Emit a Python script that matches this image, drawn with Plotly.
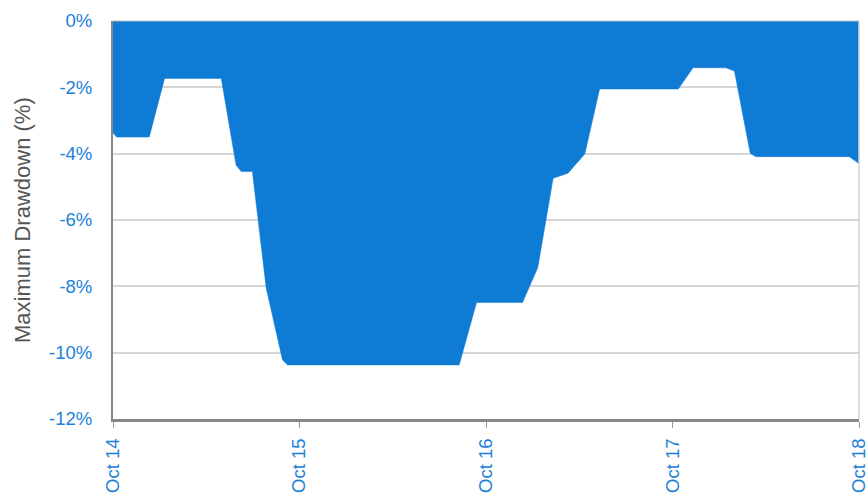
import plotly.graph_objects as go

dates = [
    "2014-10-01", "2014-10-08", "2014-12-11", "2015-01-10", "2015-05-01",
    "2015-05-30", "2015-06-09", "2015-07-01", "2015-07-28", "2015-08-29",
    "2015-09-08", "2016-08-09", "2016-09-12", "2016-12-11", "2017-01-10",
    "2017-02-09", "2017-03-10", "2017-04-12", "2017-05-11", "2017-10-12",
    "2017-11-10", "2018-01-13", "2018-01-30", "2018-03-02", "2018-03-13",
    "2018-09-12", "2018-09-30",
]
drawdown = [
    -3.38, -3.50, -3.50, -1.73, -1.73,
    -4.34, -4.54, -4.54, -8.05, -10.22,
    -10.37, -10.37, -8.49, -8.49, -7.43,
    -4.74, -4.59, -4.01, -2.05, -2.05,
    -1.41, -1.41, -1.51, -3.99, -4.09,
    -4.09, -4.29,
]
x_ticks = ["2014-10-01", "2015-10-01", "2016-10-01", "2017-10-01", "2018-10-01"]
x_tick_labels = ["Oct 14", "Oct 15", "Oct 16", "Oct 17", "Oct 18"]
y_ticks = [0, -2, -4, -6, -8, -10, -12]
y_tick_labels = ["0%", "-2%", "-4%", "-6%", "-8%", "-10%", "-12%"]

FILL = "#0e7bd4"
LABEL = "#1a80d9"

fig = go.Figure()
fig.add_trace(go.Scatter(
    x=dates, y=drawdown, mode="lines", fill="tozeroy",
    fillcolor=FILL, line=dict(color=FILL, width=0.5),
    hoverinfo="skip", showlegend=False,
))

fig.update_layout(
    width=867, height=496,
    margin=dict(l=113, r=8, t=21, b=77, autoexpand=False),
    paper_bgcolor="white", plot_bgcolor="white",
    font=dict(family="Liberation Sans, Arial, sans-serif", size=18, color=LABEL),
    xaxis=dict(
        range=["2014-10-01", "2018-10-01"],
        tickmode="array", tickvals=x_ticks, ticktext=x_tick_labels,
        tickangle=-90, ticks="outside", ticklen=6, tickcolor="#999999", tickwidth=1,
        ticklabelstandoff=3, ticklabeloverflow="allow",
        showgrid=False, zeroline=False, automargin=False,
        showline=True, linecolor="#888888", linewidth=3,
        tickfont=dict(size=18.5, color=LABEL),
    ),
    yaxis=dict(
        range=[-12, 0],
        tickmode="array", tickvals=y_ticks, ticktext=y_tick_labels,
        showgrid=True, gridcolor="#d6d6d6", gridwidth=2,
        zeroline=False, automargin=False,
        showline=True, linecolor="#888888", linewidth=2,
        ticks="outside", ticklen=15, tickcolor="rgba(0,0,0,0)",
        ticklabeloverflow="allow",
        tickfont=dict(size=18.5, color=LABEL),
    ),
    annotations=[
        dict(text="Maximum Drawdown (%)", xref="paper", yref="paper",
             x=-0.122, y=0.5, xanchor="center", yanchor="middle",
             textangle=-90, showarrow=False,
             font=dict(size=22, color="#555555")),
    ],
    shapes=[
        dict(type="line", xref="paper", yref="paper", x0=0, x1=1, y0=1, y1=1,
             line=dict(color="#bbbbbb", width=1)),
        dict(type="line", xref="paper", yref="paper", x0=1, x1=1, y0=0, y1=1,
             line=dict(color="#bbbbbb", width=1)),
    ],
)

fig.write_html(
    "out.html",
    config={"displayModeBar": False},
    post_script="document.body.style.margin='0';document.body.style.overflow='hidden';",
)
